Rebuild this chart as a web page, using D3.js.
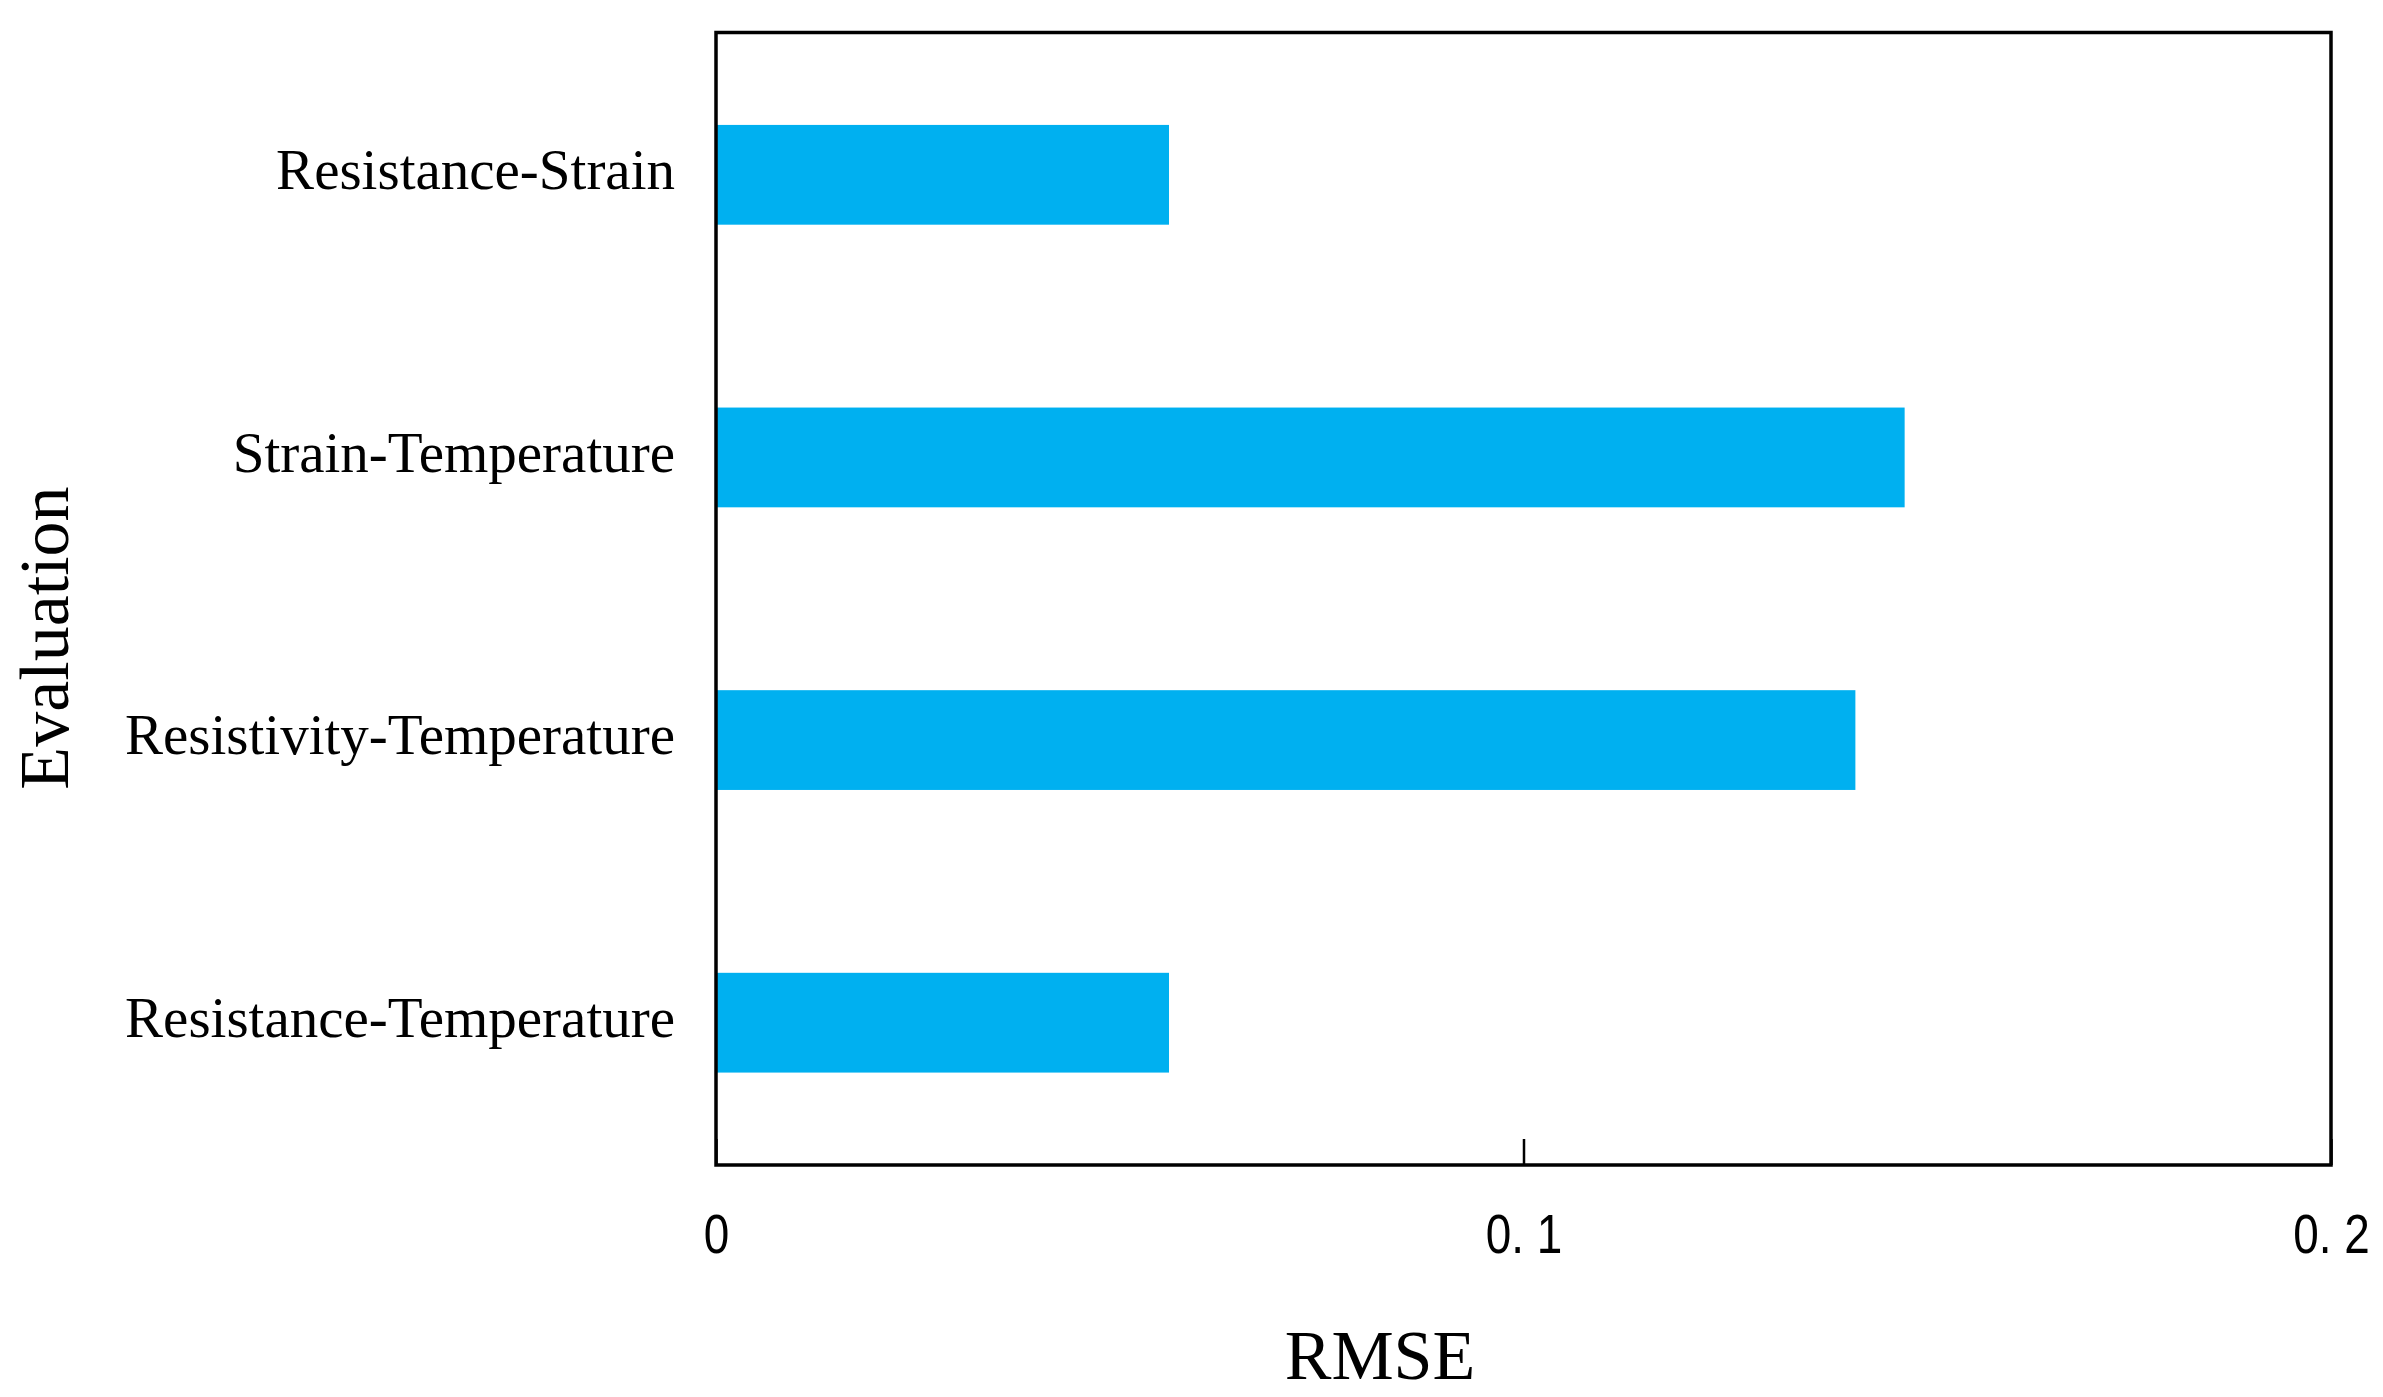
<!DOCTYPE html>
<html>
<head>
<meta charset="utf-8">
<script src="https://cdn.jsdelivr.net/npm/d3@7"></script>
<style>
  html, body { margin: 0; padding: 0; background: #ffffff; }
  svg { display: block; }
</style>
</head>
<body>
<svg id="chart" width="2383" height="1397"></svg>
<script>
// Data (top to bottom)
const categories = ["Resistance-Strain", "Strain-Temperature", "Resistivity-Temperature", "Resistance-Temperature"];
const rmseValues = [0.0561, 0.1472, 0.1411, 0.0561];
const xTickValues = [0, 0.1, 0.2];
const xTickLabels = ["0", "0. 1", "0. 2"];
const xTitle = "RMSE";
const yTitle = "Evaluation";

const svg = d3.select("#chart");
const margin = { left: 716, top: 32.5, right: 2383 - 2331, bottom: 1397 - 1165 };
const W = 2383 - margin.left - margin.right;
const H = 1397 - margin.top - margin.bottom;

const x = d3.scaleLinear().domain([0, 0.2]).range([0, W]);
const y = d3.scaleBand().domain(categories).range([0, H]).paddingInner(0.647).paddingOuter(0.327);

const g = svg.append("g").attr("transform", `translate(${margin.left},${margin.top})`);

// Bars
g.selectAll("rect.bar")
  .data(categories.map((c, i) => ({ c, v: rmseValues[i] })))
  .enter().append("rect")
  .attr("class", "bar")
  .attr("x", x(0))
  .attr("y", d => y(d.c))
  .attr("width", d => x(d.v) - x(0))
  .attr("height", y.bandwidth())
  .attr("fill", "#00B0F0");

// X axis (ticks inside, labels below)
const xAxis = d3.axisBottom(x)
  .tickValues(xTickValues)
  .tickFormat((d, i) => xTickLabels[i])
  .tickSizeInner(-26)
  .tickSizeOuter(0)
  .tickPadding(48);
const xg = g.append("g").attr("transform", `translate(0,${H})`).call(xAxis);
xg.select(".domain").remove();
xg.selectAll(".tick line").attr("stroke", "#000").attr("stroke-width", 2.5);
xg.selectAll(".tick text")
  .attr("fill", "#000")
  .attr("font-family", "'Liberation Sans', Arial, sans-serif")
  .attr("font-size", 56)
  .attr("transform", "scale(0.82,1)");

// Y axis (labels only)
const yAxis = d3.axisLeft(y).tickSize(0).tickPadding(41);
const yg = g.append("g").call(yAxis);
yg.select(".domain").remove();
yg.selectAll(".tick text")
  .attr("fill", "#000")
  .attr("dy", "0.25em")
  .attr("font-family", "'Liberation Serif', 'Times New Roman', serif")
  .attr("font-size", 57);

// Frame
g.append("rect")
  .attr("x", 0).attr("y", 0)
  .attr("width", W).attr("height", H)
  .attr("fill", "none")
  .attr("stroke", "#000")
  .attr("stroke-width", 3.5);

// Axis titles
svg.append("text")
  .attr("x", 1380)
  .attr("y", 1379)
  .attr("text-anchor", "middle")
  .attr("font-family", "'Liberation Serif', 'Times New Roman', serif")
  .attr("font-size", 70)
  .attr("fill", "#000")
  .text(xTitle);

svg.append("text")
  .attr("transform", "translate(68,638) rotate(-90)")
  .attr("text-anchor", "middle")
  .attr("font-family", "'Liberation Serif', 'Times New Roman', serif")
  .attr("font-size", 70)
  .attr("fill", "#000")
  .text(yTitle);
</script>
</body>
</html>
